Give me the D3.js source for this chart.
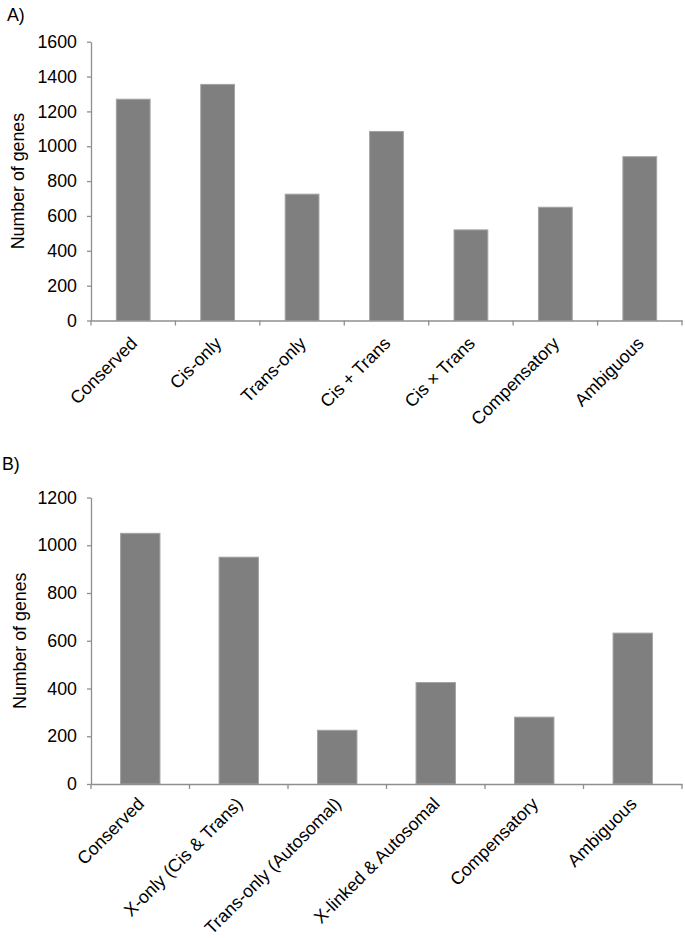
<!DOCTYPE html>
<html>
<head>
<meta charset="utf-8">
<script src="https://cdn.jsdelivr.net/npm/d3@7"></script>
<style>
  html, body { margin: 0; padding: 0; background: #fff; }
  svg { display: block; }
  text { font-family: "Liberation Sans", Arial, sans-serif; fill: #000; }
</style>
</head>
<body>
<svg id="chart" width="685" height="938"></svg>
<script>
// ---- Data ----
const categoriesA = ["Conserved", "Cis-only", "Trans-only", "Cis + Trans", "Cis \u00d7 Trans", "Compensatory", "Ambiguous"];
const valuesA = [1270, 1355, 725, 1085, 520, 650, 940];
const ticksA = [0, 200, 400, 600, 800, 1000, 1200, 1400, 1600];

const categoriesB = ["Conserved", "X-only (Cis & Trans)", "Trans-only (Autosomal)", "X-linked & Autosomal", "Compensatory", "Ambiguous"];
const valuesB = [1050, 950, 225, 425, 280, 632];
const ticksB = [0, 200, 400, 600, 800, 1000, 1200];

const yLabel = "Number of genes";

const svg = d3.select("#chart");
const FONT = 17.8;
const AXIS = "#8f8f8f";

function panel(opts) {
  const { cats, vals, ticks, yMax, left, right, top, bottom, title, titleX, titleY, ylabX, labOff } = opts;
  const g = svg.append("g");

  const x = d3.scaleBand().domain(cats).range([left, right]).paddingInner(0.6).paddingOuter(0.3);
  const y = d3.scaleLinear().domain([0, yMax]).range([bottom, top]);

  // bars
  g.selectAll("rect.bar").data(cats).enter().append("rect")
    .attr("class", "bar")
    .attr("x", d => x(d))
    .attr("width", x.bandwidth())
    .attr("y", (d, i) => y(vals[i]))
    .attr("height", (d, i) => bottom - y(vals[i]))
    .attr("fill", "#7f7f7f")
    .attr("stroke", "#a3a3a3")
    .attr("stroke-width", 1);

  // y axis
  const ya = g.append("g").attr("transform", `translate(${left},0)`)
    .call(d3.axisLeft(y).tickValues(ticks).tickFormat(d3.format("d")).tickSize(4).tickSizeOuter(0).tickPadding(10));
  ya.select(".domain").attr("stroke", AXIS).attr("stroke-width", 1.3);
  ya.selectAll(".tick line").attr("stroke", AXIS).attr("stroke-width", 1.3);
  ya.selectAll(".tick text").attr("font-size", FONT).attr("fill", "#000")
    .style("font-family", '"Liberation Sans", Arial, sans-serif');

  // x axis line
  const xa = g.append("g").attr("transform", `translate(0,${bottom})`)
    .call(d3.axisBottom(x).tickSize(0).tickSizeOuter(0).tickFormat(""));
  xa.select(".domain").attr("stroke", AXIS).attr("stroke-width", 1.3);
  xa.selectAll(".tick").remove();

  // boundary ticks between categories
  const bounds = cats.map(c => x(c) + x.bandwidth() / 2 - x.step() / 2);
  bounds.push(x(cats[cats.length - 1]) + x.bandwidth() / 2 + x.step() / 2);
  g.selectAll("line.bt").data(bounds).enter().append("line")
    .attr("x1", d => d).attr("x2", d => d)
    .attr("y1", bottom).attr("y2", bottom + 5)
    .attr("stroke", AXIS).attr("stroke-width", 1.3);

  // category labels, rotated -45
  g.selectAll("text.cat").data(cats).enter().append("text")
    .attr("class", "cat")
    .attr("text-anchor", "end")
    .attr("font-size", FONT)
    .attr("transform", d => `translate(${x(d) + x.bandwidth() / 2 + 5},${bottom + labOff}) rotate(-45)`)
    .text(d => d);

  // y label
  g.append("text")
    .attr("text-anchor", "middle")
    .attr("font-size", FONT)
    .attr("transform", `translate(${ylabX},${(top + bottom) / 2}) rotate(-90)`)
    .text(yLabel);

  // panel title
  g.append("text").attr("x", titleX).attr("y", titleY).attr("font-size", FONT).text(title);
}

panel({ cats: categoriesA, vals: valuesA, ticks: ticksA, yMax: 1600,
        left: 91, right: 682, top: 41.7, bottom: 320.5, labOff: 24,
        title: "A)", titleX: 7, titleY: 21, ylabX: 24 });

panel({ cats: categoriesB, vals: valuesB, ticks: ticksB, yMax: 1200,
        left: 91, right: 682, top: 497.5, bottom: 784, labOff: 21,
        title: "B)", titleX: 2, titleY: 470, ylabX: 26 });
</script>
</body>
</html>
